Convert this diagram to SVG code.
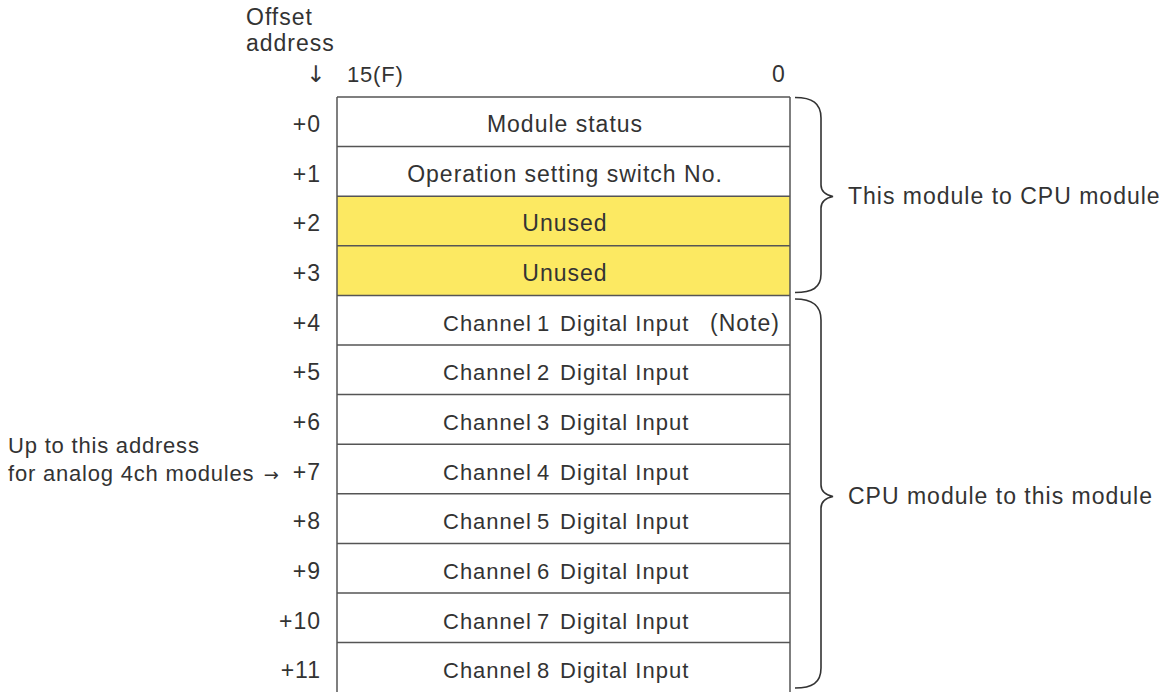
<svg xmlns="http://www.w3.org/2000/svg" width="1167" height="692" viewBox="0 0 1167 692">
<style>
text{font-family:"Liberation Sans",Arial,sans-serif;font-size:23px;letter-spacing:1px;fill:#333;}
.c{text-anchor:middle;}
.r{text-anchor:end;}
.ch{font-size:22px;}
.lf{font-size:22px;letter-spacing:0.8px;}
.ar{font-family:"DejaVu Sans",sans-serif;font-size:18px;letter-spacing:0;}
.grid{stroke:#555;stroke-width:1.5;fill:none;}
.brace{stroke:#333;stroke-width:1.6;fill:none;}
.unused{fill:#FCE962;}
</style>
<rect width="1167" height="692" fill="#fff"/>
<g id="header">
<text x="246" y="25">Offset</text>
<text x="246" y="51">address</text>
<text class="ar" x="306" y="82" style="font-size:23px">↓</text>
<text x="347" y="82" style="font-size:22px;letter-spacing:0.8px">15(F)</text>
<text x="772" y="82">0</text>
</g>
<g id="table">
<rect class="unused" x="337" y="196.2" width="453" height="99.2"/>
<g class="grid">
<line x1="337" y1="97" x2="337" y2="692"/>
<line x1="790" y1="97" x2="790" y2="692"/>
<line x1="337" y1="97" x2="790" y2="97"/>
<line x1="337" y1="146.6" x2="790" y2="146.6"/>
<line x1="337" y1="196.2" x2="790" y2="196.2"/>
<line x1="337" y1="245.8" x2="790" y2="245.8"/>
<line x1="337" y1="295.4" x2="790" y2="295.4"/>
<line x1="337" y1="345" x2="790" y2="345"/>
<line x1="337" y1="394.6" x2="790" y2="394.6"/>
<line x1="337" y1="444.2" x2="790" y2="444.2"/>
<line x1="337" y1="493.8" x2="790" y2="493.8"/>
<line x1="337" y1="543.4" x2="790" y2="543.4"/>
<line x1="337" y1="593" x2="790" y2="593"/>
<line x1="337" y1="642.6" x2="790" y2="642.6"/>
</g>
</g>
<g id="row0"><text class="r" x="321" y="132">+0</text><text class="c" x="565" y="132">Module status</text></g>
<g id="row1"><text class="r" x="321" y="182">+1</text><text class="c" x="565" y="182">Operation setting switch No.</text></g>
<g id="row2"><text class="r" x="321" y="231">+2</text><text class="c" x="565" y="231">Unused</text></g>
<g id="row3"><text class="r" x="321" y="281">+3</text><text class="c" x="565" y="281">Unused</text></g>
<g id="row4"><text class="r" x="321" y="331">+4</text><text class="ch" x="443" y="331">Channel<tspan x="530"> 1</tspan><tspan x="553"> Digital Input</tspan></text><text x="710" y="331">(Note)</text></g>
<g id="row5"><text class="r" x="321" y="380">+5</text><text class="ch" x="443" y="380">Channel<tspan x="530"> 2</tspan><tspan x="553"> Digital Input</tspan></text></g>
<g id="row6"><text class="r" x="321" y="430">+6</text><text class="ch" x="443" y="430">Channel<tspan x="530"> 3</tspan><tspan x="553"> Digital Input</tspan></text></g>
<g id="row7"><text class="r" x="321" y="480">+7</text><text class="ch" x="443" y="480">Channel<tspan x="530"> 4</tspan><tspan x="553"> Digital Input</tspan></text></g>
<g id="row8"><text class="r" x="321" y="529">+8</text><text class="ch" x="443" y="529">Channel<tspan x="530"> 5</tspan><tspan x="553"> Digital Input</tspan></text></g>
<g id="row9"><text class="r" x="321" y="579">+9</text><text class="ch" x="443" y="579">Channel<tspan x="530"> 6</tspan><tspan x="553"> Digital Input</tspan></text></g>
<g id="row10"><text class="r" x="321" y="629">+10</text><text class="ch" x="443" y="629">Channel<tspan x="530"> 7</tspan><tspan x="553"> Digital Input</tspan></text></g>
<g id="row11"><text class="r" x="321" y="678">+11</text><text class="ch" x="443" y="678">Channel<tspan x="530"> 8</tspan><tspan x="553"> Digital Input</tspan></text></g>
<g id="note-left">
<text class="lf" x="8" y="453">Up to this address</text>
<text class="lf" x="8" y="481">for analog 4ch modules<tspan class="ar" x="258"> →</tspan></text>
</g>
<g id="connectors">
<path class="brace" d="M795 97.5 C812 97.5 821 103 821 118 L821 185 C821 191 826 195 833 196.5 C826 198 821 202 821 208 L821 274 C821 288 812 292.5 795 292.5"/>
<path class="brace" d="M795 299 C812 299 821 305 821 320 L821 485 C821 491 826 495 833 496.5 C826 498 821 502 821 508 L821 668 C821 683 812 688 795 688"/>
</g>
<g id="labels-right">
<text x="848" y="204">This module to CPU module</text>
<text x="848" y="504">CPU module to this module</text>
</g>
</svg>
